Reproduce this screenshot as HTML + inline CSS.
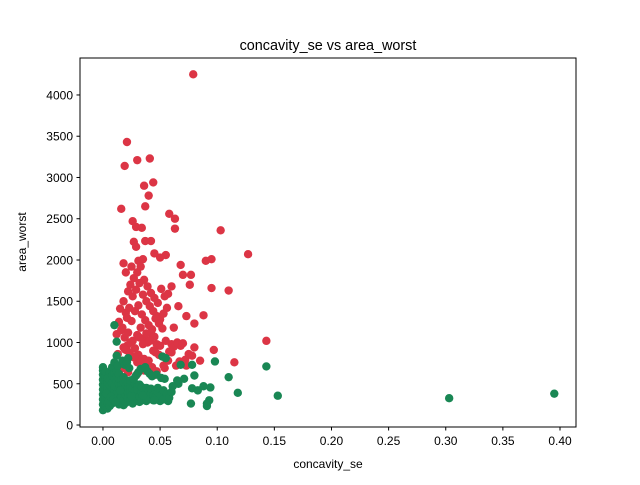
<!DOCTYPE html>
<html><head><meta charset="utf-8"><style>
body{margin:0;background:#fff;font-family:"Liberation Sans","DejaVu Sans",sans-serif}
</style></head><body>
<svg id="chart" width="640" height="480" xmlns="http://www.w3.org/2000/svg">
<rect width="640" height="480" fill="#fff"/>
<text x="328" y="50" font-size="14.4" text-anchor="middle">concavity_se vs area_worst</text>
<g id="plot"></g>
<rect x="80" y="58" width="496" height="369" fill="none" stroke="#000" stroke-width="1"/>
<g id="xt"></g><g id="yt"></g>
<text x="328" y="468" font-size="12" text-anchor="middle">concavity_se</text>
<text x="26" y="242" font-size="12" text-anchor="middle" transform="rotate(-90 26 242)">area_worst</text>
</svg>
<script>
const xTicks=[0,0.05,0.1,0.15,0.2,0.25,0.3,0.35,0.4];
const xTickLabels=["0.00","0.05","0.10","0.15","0.20","0.25","0.30","0.35","0.40"];
const yTicks=[0,500,1000,1500,2000,2500,3000,3500,4000];
const redX=[0.079,0.021,0.041,0.030,0.019,0.044,0.036,0.040,0.037,0.016,0.058,0.063,0.026,0.029,0.034,0.063,0.103,0.037,0.042,0.027,0.029,0.055,0.127,0.050,0.045,0.090,0.095,0.068,0.018,0.025,0.031,0.035,0.077,0.070,0.020,0.095,0.110,0.076,0.066,0.073,0.088,0.080,0.062,0.143,0.097,0.115,0.080,0.078,0.072,0.060,0.068,
0.015,0.018,0.022,0.024,0.027,0.030,0.033,0.036,0.039,0.042,0.045,0.048,0.051,0.054,0.057,0.060,0.020,0.023,0.026,0.029,0.032,0.035,0.038,0.041,0.044,0.047,0.050,0.053,0.056,0.014,0.017,0.021,0.025,0.028,0.031,0.034,0.037,0.040,0.043,0.046,0.049,0.052,0.012,0.016,0.019,0.022,0.026,0.030,0.033,0.036,0.039,0.042,0.045,0.048,0.055,0.062,0.065,0.070,0.018,0.021,0.024,0.028,0.032,0.035,0.038,0.041,0.044,0.047,0.050,0.058,0.013,0.019,0.023,0.027,0.031,0.036,0.040,0.046,0.052,0.057,0.064,0.075,0.085,0.020,0.025,0.030,0.034,0.038,0.043,0.049,0.054,0.060,0.067,0.073,0.016,0.022,0.028,0.033,0.040,0.047,0.053,0.030,0.036,0.044];
const redY=[4250,3430,3230,3210,3140,2940,2900,2780,2650,2620,2560,2500,2470,2400,2390,2380,2360,2230,2230,2220,2160,2060,2070,2030,2080,1990,2010,1940,1960,1920,1990,2010,1820,1820,1850,1660,1630,1700,1440,1320,1330,1230,1180,1020,910,760,940,840,790,980,960,
1410,1500,1620,1700,1780,1850,1920,1760,1680,1600,1540,1480,1650,1560,1590,1680,1360,1420,1560,1640,1720,1580,1500,1440,1380,1320,1280,1350,1420,1250,1180,1300,1260,1380,1450,1340,1270,1210,1160,1290,1230,1170,1100,1150,1060,1120,1020,1090,1180,1050,1000,1110,1070,970,1020,950,1000,990,940,960,1000,930,1060,980,1110,1020,900,980,960,890,860,920,880,820,850,800,780,880,830,780,720,860,780,910,840,760,800,740,700,850,690,880,770,720,680,640,830,760,700,650,720,620,660,600];
const greenX=[0.395,0.303,0.143,0.153,0.118,0.110,0.098,0.093,0.091,0.091,0.088,0.094,0.080,0.078,0.077,0.078,0.066,0.068,0.065,0.055,0.052,0.010,0.012,0.061,0.057,0.071,0.083,
0,0,0,0,0,0,0,0,0,0,0.002,0.002,0.002,0.002,0.002,0.002,0.002,0.002,0.004,0.004,0.004,0.004,0.004,0.004,0.004,0.006,0.006,0.006,0.006,0.006,0.006,0.006,0.008,0.008,0.008,0.008,0.008,0.008,0.008,0.010,0.010,0.010,0.010,0.010,0.010,0.010,0.012,0.012,0.012,0.012,0.012,0.012,0.014,0.014,0.014,0.014,0.014,0.014,0.016,0.016,0.016,0.016,0.016,0.016,0.018,0.018,0.018,0.018,0.018,0.018,0.020,0.020,0.020,0.020,0.020,0.022,0.022,0.022,0.022,0.022,0.024,0.024,0.024,0.024,0.024,0.026,0.026,0.026,0.026,0.028,0.028,0.028,0.028,0.030,0.030,0.030,0.030,0.032,0.032,0.032,0.034,0.034,0.034,0.036,0.036,0.036,0.038,0.038,0.038,0.040,0.040,0.040,0.042,0.042,0.044,0.044,0.046,0.046,0.048,0.048,0.050,0.050,0.053,0.053,0.056,0.058,0.060,0.045,0.035,0.025,0.015,0.005,0.003,0.007,0.009,0.011,0.013,0.017,0.019,0.021,0.023,0.027,0.029,0.031,0.033,0.037,0.039,0.041,0.043,0.047,0.051,0.054];
const greenY=[380,325,710,355,390,580,770,300,230,260,470,455,600,445,260,730,500,730,540,810,830,1210,1010,470,290,560,420,
180,250,310,370,430,490,550,610,660,700,220,290,350,410,470,530,590,650,200,270,330,390,450,510,570,640,230,300,360,420,480,540,600,700,260,330,390,450,510,570,630,760,290,350,410,470,530,590,650,840,320,380,440,500,560,620,250,310,370,430,490,550,280,340,400,460,520,580,240,300,360,420,480,540,270,330,390,450,510,810,300,360,420,480,540,260,320,380,440,500,290,350,410,470,310,370,430,490,280,340,400,460,300,360,420,330,390,450,290,350,410,320,380,440,300,360,420,340,400,450,290,350,420,310,380,330,400,300,360,350,420,290,380,340,310,280,720,780,730,760,690,560,600,640,680,700,650,620,590,610,570,560,540,520,500,480,470,460,440,420,400];
const x0=-0.0201,x1=0.414,y0=-24,y1=4448;
const X=v=>80+(v-x0)/(x1-x0)*496;
const Y=v=>427-(v-y0)/(y1-y0)*369;
const NS="http://www.w3.org/2000/svg";
const plot=document.getElementById('plot');
function dot(x,y,c,n){if(x===undefined||y===undefined)return;
const e=document.createElementNS(NS,'circle');
e.setAttribute('cx',X(x));e.setAttribute('cy',Y(y));e.setAttribute('r',4.2);e.setAttribute('fill',c);


plot.appendChild(e);}
redX.forEach((v,i)=>dot(v,redY[i],'#dc3545','point-malignant'));
greenX.forEach((v,i)=>dot(v,greenY[i],'#198754','point-benign'));
const xt=document.getElementById('xt');
xTicks.forEach((t,i)=>{const px=X(t);
const l=document.createElementNS(NS,'line');l.setAttribute('x1',px);l.setAttribute('x2',px);l.setAttribute('y1',427);l.setAttribute('y2',430.5);l.setAttribute('stroke','#000');


xt.appendChild(l);
const s=document.createElementNS(NS,'text');s.setAttribute('x',px);s.setAttribute('y',445);s.setAttribute('font-size','12');s.setAttribute('text-anchor','middle');s.textContent=xTickLabels[i];


xt.appendChild(s);});
const yt=document.getElementById('yt');
yTicks.forEach(t=>{const py=Y(t);
const l=document.createElementNS(NS,'line');l.setAttribute('x1',76.5);l.setAttribute('x2',80);l.setAttribute('y1',py);l.setAttribute('y2',py);l.setAttribute('stroke','#000');


yt.appendChild(l);
const s=document.createElementNS(NS,'text');s.setAttribute('x',73);s.setAttribute('y',py+4.5);s.setAttribute('font-size','12');s.setAttribute('text-anchor','end');s.textContent=t;


yt.appendChild(s);});
</script>
</body></html>
